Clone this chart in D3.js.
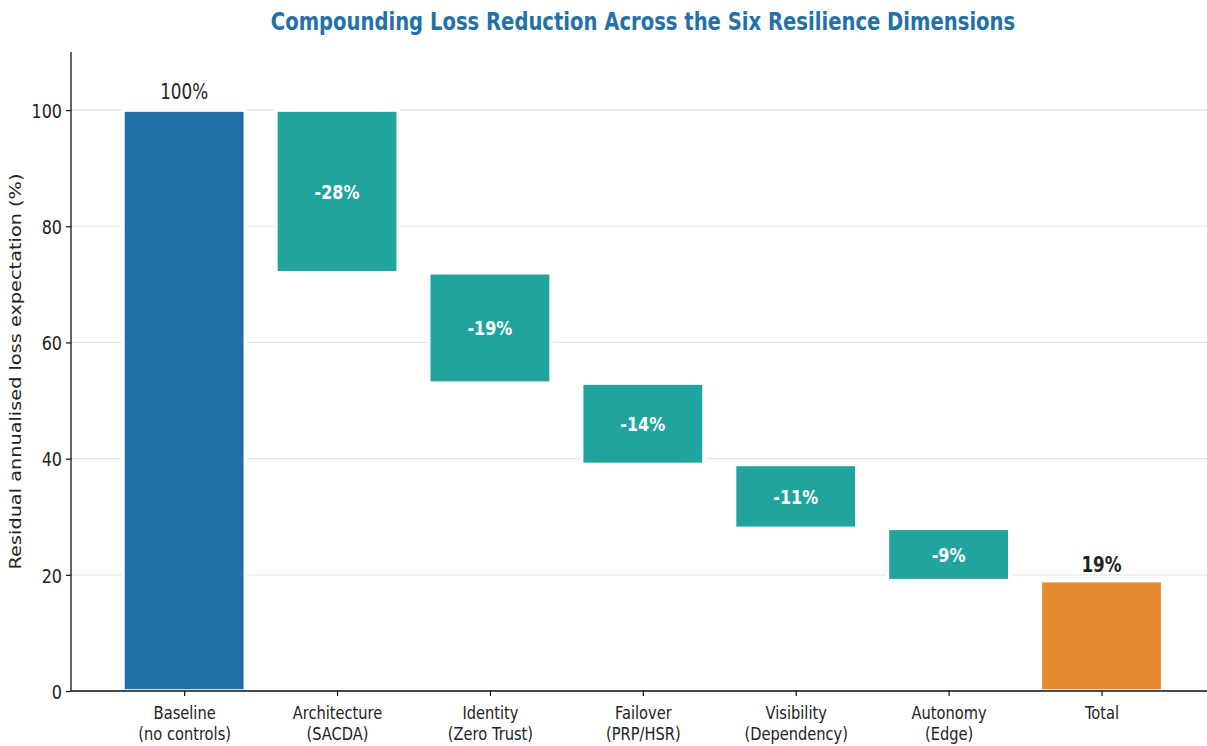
<!DOCTYPE html>
<html>
<head>
<meta charset="utf-8">
<script src="https://cdn.jsdelivr.net/npm/d3@7"></script>
<style>
  html, body { margin: 0; padding: 0; background: #fff; }
  svg { display: block; }
  text { font-family: "DejaVu Sans", sans-serif; }
</style>
</head>
<body>
<svg id="chart" width="1207" height="746"></svg>
<script>
const categories = ["Baseline\n(no controls)", "Architecture\n(SACDA)", "Identity\n(Zero Trust)", "Failover\n(PRP/HSR)", "Visibility\n(Dependency)", "Autonomy\n(Edge)", "Total"];
const baselineValue = 100;
const reductions = [28, 19, 14, 11, 9];
const yTicks = [0, 20, 40, 60, 80, 100];
const titleText = "Compounding Loss Reduction Across the Six Resilience Dimensions";
const yLabelText = "Residual annualised loss expectation (%)";

// build waterfall segments
const segs = [];
let level = baselineValue;
segs.push({i: 0, lo: 0, hi: baselineValue, type: "base", label: baselineValue + "%"});
reductions.forEach((r, k) => {
  segs.push({i: k + 1, lo: level - r, hi: level, type: "step", label: "-" + r + "%"});
  level -= r;
});
segs.push({i: categories.length - 1, lo: 0, hi: level, type: "total", label: level + "%"});

const colors = {base: "#2070a8", step: "#21a49e", total: "#e48a2e"};
const K = 0.8; // horizontal text squeeze

const svg = d3.select("#chart");
const margin = {left: 71, right: 0, top: 52, bottom: 55};
const W = 1207, H = 746;
const x = d3.scaleLinear().domain([-0.74, 6.69]).range([margin.left, W - margin.right]);
const y = d3.scaleLinear().domain([0, 110]).range([H - margin.bottom, margin.top]);
const barW = 0.8;

function putText(parent, px, py, str, opts) {
  const g = parent.append("g").attr("transform", `translate(${px},${py}) scale(${K},1)`);
  const t = g.append("text").attr("text-anchor", opts.anchor || "middle")
    .attr("fill", opts.fill || "#222").attr("font-size", opts.size)
    .attr("font-weight", opts.weight || "normal").text(str);
  if (opts.dy) t.attr("dy", opts.dy);
  return t;
}

// grid
svg.append("g").selectAll("line").data(yTicks).join("line")
  .attr("x1", margin.left).attr("x2", W - margin.right)
  .attr("y1", d => y(d)).attr("y2", d => y(d))
  .attr("stroke", "#e4e4e4").attr("stroke-width", 1.2);

// bars
svg.append("g").selectAll("rect").data(segs).join("rect")
  .attr("x", d => x(d.i - barW / 2))
  .attr("width", x(barW) - x(0))
  .attr("y", d => y(d.hi))
  .attr("height", d => y(d.lo) - y(d.hi))
  .attr("fill", d => colors[d.type])
  .attr("stroke", "#fff").attr("stroke-width", 3.5);

// labels
const lab = svg.append("g");
segs.forEach(d => {
  if (d.type === "step") {
    putText(lab, x(d.i), y((d.lo + d.hi) / 2), d.label, {size: 20, weight: "bold", fill: "#fff", dy: "0.36em"});
  } else if (d.type === "base") {
    putText(lab, x(d.i), y(d.hi) - 11, d.label, {size: 21});
  } else {
    putText(lab, x(d.i), y(d.hi) - 9, d.label, {size: 21, weight: "bold"});
  }
});

// axes
const yAxis = d3.axisLeft(y).tickValues(yTicks).tickSize(5).tickFormat(() => "");
const gy = svg.append("g").attr("transform", `translate(${margin.left},0)`).call(yAxis);
gy.select(".domain").attr("d", `M0,${y(0)}V${margin.top}`).attr("stroke", "#111").attr("stroke-width", 1.3);
gy.selectAll(".tick line").attr("stroke", "#111").attr("stroke-width", 1.2);
gy.selectAll(".tick").each(function(d) {
  putText(d3.select(this), -9, 0, String(d), {size: 20, anchor: "end", dy: "0.36em"});
});

const xAxis = d3.axisBottom(x).tickValues(d3.range(categories.length)).tickSize(5).tickFormat(() => "");
const gx = svg.append("g").attr("transform", `translate(0,${y(0)})`).call(xAxis);
gx.select(".domain").attr("d", `M${margin.left},0H${W - margin.right}`).attr("stroke", "#111").attr("stroke-width", 1.3);
gx.selectAll(".tick line").attr("stroke", "#111").attr("stroke-width", 1.2);
gx.selectAll(".tick").each(function(d) {
  const lines = categories[d].split("\n");
  lines.forEach((l, k) => putText(d3.select(this), 0, 28 + k * 21, l, {size: 18.3}));
});

// title
putText(svg, 643, 30, titleText, {size: 24.5, weight: "bold", fill: "#2470a8"});

// y label
svg.append("text").attr("transform", `translate(21,${(y(0) + margin.top) / 2}) scale(${K},1) rotate(-90)`)
  .attr("text-anchor", "middle").attr("font-size", 19.3)
  .attr("fill", "#222").text(yLabelText);
</script>
</body>
</html>
